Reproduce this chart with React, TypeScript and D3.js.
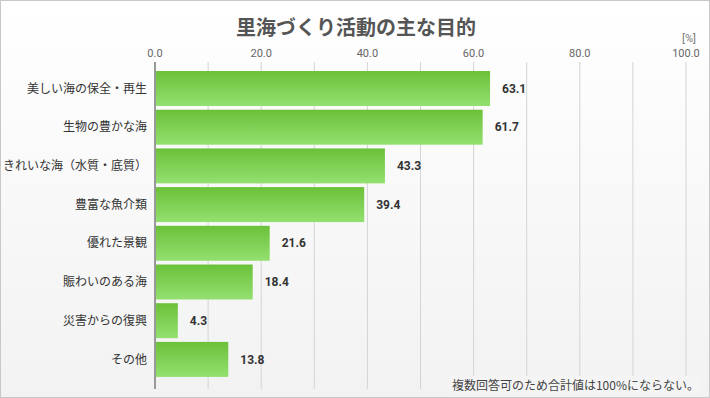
import React, { useRef, useEffect } from 'react';
import * as d3 from 'd3';

const categories = [
  '美しい海の保全・再生',
  '生物の豊かな海',
  'きれいな海（水質・底質）',
  '豊富な魚介類',
  '優れた景観',
  '賑わいのある海',
  '災害からの復興',
  'その他',
];
const values = [63.1, 61.7, 43.3, 39.4, 21.6, 18.4, 4.3, 13.8];
const ticks = [0, 20, 40, 60, 80, 100];
const gridValues = [10, 20, 30, 40, 50, 60, 70, 80, 90, 100];

const FONT = '"Noto Sans CJK JP", "Noto Sans", sans-serif';
const NUM_FONT = 'Roboto, "Noto Sans", sans-serif';

const App = () => {
  const svgRef = useRef<SVGSVGElement>(null);

  useEffect(() => {
    const width = 710;
    const height = 398;
    const svg = d3.select(svgRef.current)
      .attr('width', width)
      .attr('height', height)
      .style('font-family', FONT);

    svg.selectAll('*').remove();

    const defs = svg.append('defs');
    const bg = defs.append('linearGradient').attr('id', 'bg').attr('x1', 0).attr('y1', 0).attr('x2', 0).attr('y2', 1);
    bg.append('stop').attr('offset', '0%').attr('stop-color', '#ffffff');
    bg.append('stop').attr('offset', '100%').attr('stop-color', '#f2f2f2');
    const bar = defs.append('linearGradient').attr('id', 'bar').attr('x1', 0).attr('y1', 0).attr('x2', 0).attr('y2', 1);
    bar.append('stop').attr('offset', '0%').attr('stop-color', '#6bc139');
    bar.append('stop').attr('offset', '100%').attr('stop-color', '#93e070');

    svg.append('rect')
      .attr('x', 0.5).attr('y', 0.5)
      .attr('width', width - 1).attr('height', height - 1)
      .attr('fill', 'url(#bg)')
      .attr('stroke', '#c8c8c8');

    const x = d3.scaleLinear().domain([0, 100]).range([155, 686]);
    const y = d3.scaleBand().domain(categories).range([67.3, 380.6]).padding(0.096);

    // grid
    svg.append('g').selectAll('line')
      .data(gridValues)
      .enter()
      .append('line')
      .attr('x1', d => x(d)).attr('x2', d => x(d))
      .attr('y1', 62).attr('y2', 389)
      .attr('stroke', '#d4d4d4')
      .attr('stroke-width', 1);

    // tick labels
    svg.append('g').selectAll('text')
      .data(ticks)
      .enter()
      .append('text')
      .attr('x', d => x(d))
      .attr('y', 57)
      .attr('text-anchor', 'middle')
      .attr('font-family', NUM_FONT)
      .attr('font-size', 11)
      .attr('fill', '#666')
      .text(d => d.toFixed(1));

    // bars
    svg.append('g').selectAll('rect')
      .data(values)
      .enter()
      .append('rect')
      .attr('x', x(0))
      .attr('y', (d, i) => y(categories[i])!)
      .attr('width', d => x(d) - x(0))
      .attr('height', y.bandwidth())
      .attr('fill', 'url(#bar)');

    // value labels
    svg.append('g').selectAll('text')
      .data(values)
      .enter()
      .append('text')
      .attr('x', d => x(d) + 12)
      .attr('y', (d, i) => y(categories[i])! + y.bandwidth() / 2)
      .attr('dy', '0.35em')
      .attr('font-family', NUM_FONT)
      .attr('font-size', 12)
      .attr('font-weight', 'bold')
      .attr('fill', '#333')
      .text(d => d.toFixed(1));

    // category labels
    svg.append('g').selectAll('text')
      .data(categories)
      .enter()
      .append('text')
      .attr('x', 147)
      .attr('y', d => y(d)! + y.bandwidth() / 2)
      .attr('dy', '0.35em')
      .attr('text-anchor', 'end')
      .attr('font-size', 12)
      .attr('fill', '#333')
      .text(d => d);

    // axis line
    svg.append('line')
      .attr('x1', x(0)).attr('x2', x(0))
      .attr('y1', 62).attr('y2', 389)
      .attr('stroke', '#999')
      .attr('stroke-width', 2);

    // title
    svg.append('text')
      .attr('x', 356)
      .attr('y', 35)
      .attr('text-anchor', 'middle')
      .attr('font-size', 20)
      .attr('font-weight', 'bold')
      .attr('fill', '#555')
      .text('里海づくり活動の主な目的');

    svg.append('text')
      .attr('x', 696)
      .attr('y', 42)
      .attr('text-anchor', 'end')
      .attr('font-family', NUM_FONT)
      .attr('font-size', 11)
      .attr('fill', '#777')
      .text('[%]');

    // footnote
    const note = svg.append('text')
      .attr('x', 699)
      .attr('y', 390)
      .attr('text-anchor', 'end')
      .attr('font-size', 12)
      .attr('fill', '#444')
      .text('複数回答可のため合計値は100%にならない。');
    const bb = (note.node() as SVGTextElement).getBBox();
    svg.insert('rect', () => note.node())
      .attr('x', bb.x - 2).attr('y', bb.y)
      .attr('width', bb.width + 4).attr('height', bb.height)
      .attr('fill', '#f4f4f4');
  }, []);

  return (
    <div style={{ position: 'fixed', left: 0, top: 0 }}>
      <svg ref={svgRef} style={{ display: 'block' }}></svg>
    </div>
  );
};

export default App;
